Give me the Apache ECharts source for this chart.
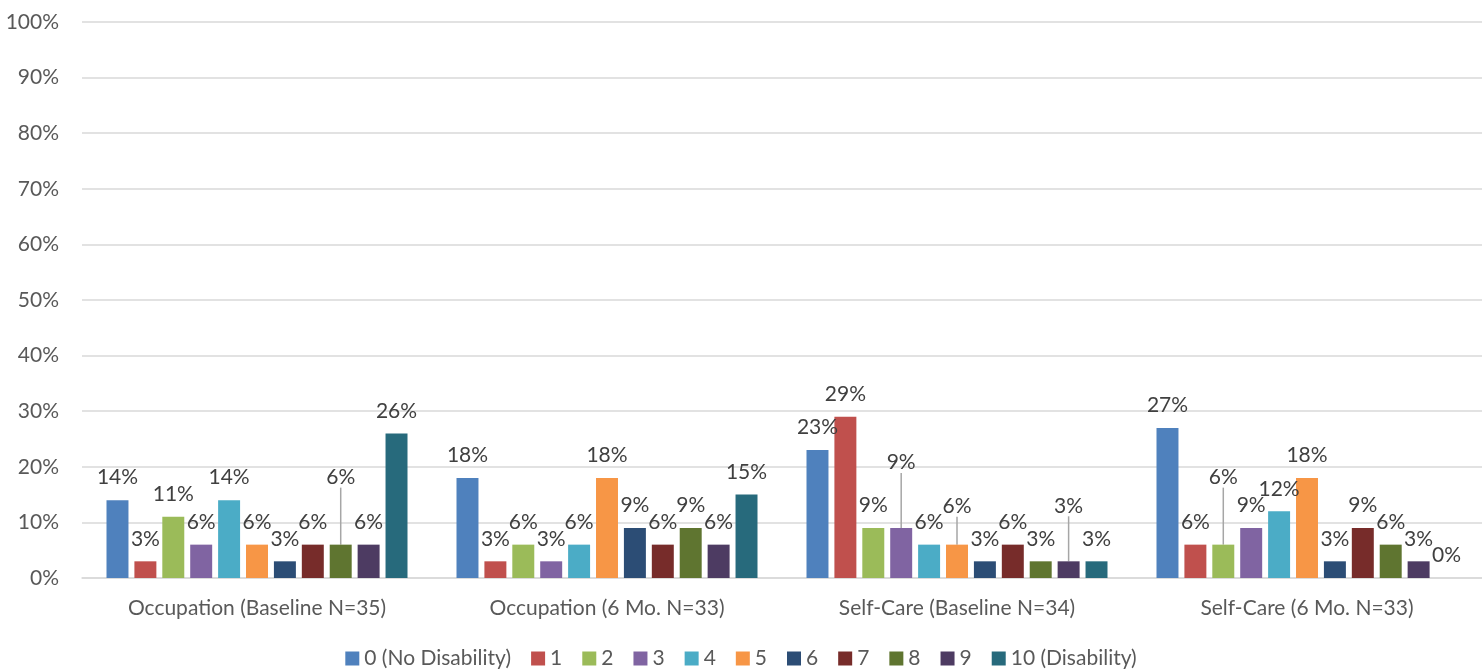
<!DOCTYPE html>
<html>
<head>
<meta charset="utf-8">
<script src="https://cdn.jsdelivr.net/npm/echarts@6/dist/echarts.min.js"></script>
<style>
  html, body { margin: 0; padding: 0; background: #fff; }
  #chart { width: 1482px; height: 671px; }
</style>
</head>
<body>
<div id="chart"></div>
<script>
// categories on the x axis
var categories = ['Occupation (Baseline N=35)', 'Occupation (6 Mo. N=33)', 'Self-Care (Baseline N=34)', 'Self-Care (6 Mo. N=33)'];
// one series per score
var seriesNames = ['0 (No Disability)', '1', '2', '3', '4', '5', '6', '7', '8', '9', '10 (Disability)'];
// values per category, in score order (percent)
var occBaseline = [14, 3, 11, 6, 14, 6, 3, 6, 6, 6, 26];
var occSixMo = [18, 3, 6, 3, 6, 18, 9, 6, 9, 6, 15];
var scBaseline = [23, 29, 9, 9, 6, 6, 3, 6, 3, 3, 3];
var scSixMo = [27, 6, 6, 9, 12, 18, 3, 9, 6, 3, 0];
var yTicks = [0, 10, 20, 30, 40, 50, 60, 70, 80, 90, 100];

var colors = ['#4F81BD', '#C0504D', '#9BBB59', '#8064A2', '#4BACC6', '#F79646',
              '#2C4D75', '#772C2A', '#5F7530', '#4D3B62', '#276A7C'];

// labels that Excel pushed up with a leader line: "series,category" -> lift in px
var labelLift = { '8,0': 45, '3,2': 43, '5,2': 16, '9,2': 33, '2,3': 45 };

var groups = [occBaseline, occSixMo, scBaseline, scSixMo];
var font = 'Lato, "Open Sans", sans-serif';

var series = seriesNames.map(function (name, s) {
    return {
        name: name,
        type: 'bar',
        barGap: '27%',
        barCategoryGap: '14%',
        itemStyle: { color: colors[s] },
        label: {
            show: true,
            position: 'top',
            distance: 12,
            formatter: '{c}%',
            color: '#404040',
            fontSize: 21,
            fontFamily: font
        },
        labelLayout: function (p) {
            var lift = labelLift[p.seriesIndex + ',' + p.dataIndex];
            return lift ? { dy: -lift } : {};
        },
        data: groups.map(function (g, c) {
            var item = { value: g[s] };
            if (labelLift[s + ',' + c]) {
                item.labelLine = { show: true, lineStyle: { color: '#a6a6a6', width: 1.5 } };
            }
            return item;
        })
    };
});

var chart = echarts.init(document.getElementById('chart'));
chart.setOption({
    animation: false,
    color: colors,
    grid: { left: 82, right: 0, top: 22, bottom: 93 },
    legend: {
        bottom: -3,
        left: 'center',
        itemWidth: 14,
        itemHeight: 14,
        itemGap: 20,
        icon: 'rect',
        textStyle: { color: '#595959', fontSize: 21, fontFamily: font },
        data: seriesNames
    },
    xAxis: {
        type: 'category',
        data: categories,
        axisLine: { lineStyle: { color: '#d9d9d9', width: 1.5 } },
        axisTick: { show: false },
        axisLabel: { color: '#595959', fontSize: 21, fontFamily: font, margin: 20 }
    },
    yAxis: {
        type: 'value',
        min: yTicks[0],
        max: yTicks[yTicks.length - 1],
        interval: 10,
        axisLine: { show: false },
        axisTick: { show: false },
        splitLine: { lineStyle: { color: '#d9d9d9', width: 1.5 } },
        axisLabel: { color: '#595959', fontSize: 21, fontFamily: font, margin: 23, formatter: '{value}%' }
    },
    series: series
});
</script>
</body>
</html>
